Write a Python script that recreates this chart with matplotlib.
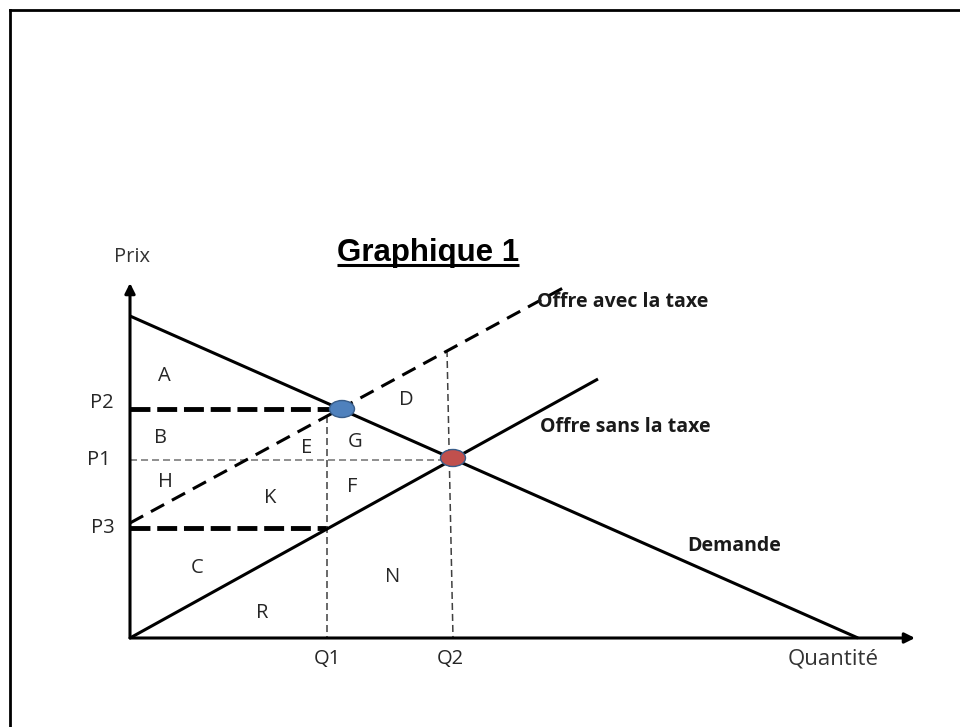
import matplotlib
matplotlib.use("Agg")
import matplotlib.pyplot as plt
from matplotlib.lines import Line2D
from matplotlib.patches import Ellipse

# curves (quantite, prix)
demande_q = [0, 728]
demande_p = [322, 0]
offre_q = [0, 468]
offre_p = [0, 259]
offre_taxe_q = [0, 433]
offre_taxe_p = [115, 350]

# prices and quantities
P2, P1, P3 = 229, 178, 110
Q1, Q2 = 197, 323
point_taxe = (212, 229)
point_equilibre = (323, 180)
q2_top = (317, 288)
q1_top = 222

prix_labels = ["P2", "P1", "P3"]
prix_label_p = [235, 178, 110]
prix_label_q = [-28, -31, -27]
quant_labels = ["Q1", "Q2"]
quant_values = [Q1, Q2 - 3]

# surface letters
zones = ["A", "B", "H", "K", "E", "G", "F", "D", "C", "R", "N"]
zones_q = [34, 30, 35, 140, 177, 225, 222, 276, 67, 132, 263]
zones_p = [262, 200, 156, 140, 190, 196, 151, 238, 70, 25, 61]

curve_names = ["Offre avec la taxe", "Offre sans la taxe", "Demande"]
curve_name_q = [407, 410, 557]
curve_name_p = [336, 211, 92]

fig = plt.figure(figsize=(9.6, 7.27), dpi=100)
ax = fig.add_axes([0, 0, 1, 1])
ax.set_xlim(-130, 830)
ax.set_ylim(-89, 638)
ax.axis("off")

txt = "#262626"
font = "Open Sans"

# axes with arrows
ax.annotate("", xy=(0, 355), xytext=(0, 0),
            arrowprops=dict(arrowstyle="-|>", lw=2.2, color="black",
                            mutation_scale=15, shrinkA=0, shrinkB=0))
ax.annotate("", xy=(785, 0), xytext=(0, 0),
            arrowprops=dict(arrowstyle="-|>", lw=2.2, color="black",
                            mutation_scale=15, shrinkA=0, shrinkB=0))

# guides
ax.plot([0, point_taxe[0]], [P2, P2], color="black", lw=3.5, dashes=(4.1, 1.4))
ax.plot([0, Q1], [P3, P3], color="black", lw=3.5, dashes=(4.1, 1.4))
ax.plot([0, Q2], [P1, P1], color="#707070", lw=1.1, dashes=(4.6, 2.6))
ax.plot([Q1, Q1], [q1_top, 0], color="#404040", lw=1.1, dashes=(4.6, 2.6))
ax.plot([q2_top[0], Q2], [q2_top[1], 0], color="#404040", lw=1.1, dashes=(4.6, 2.6))

# curves
ax.plot(demande_q, demande_p, color="black", lw=2.2, solid_capstyle="butt")
ax.plot(offre_q, offre_p, color="black", lw=2.2, solid_capstyle="butt")
ax.plot(offre_taxe_q, offre_taxe_p, color="black", lw=2.2, dashes=(4.9, 2.9))

ax.add_patch(Ellipse(point_taxe, 25, 17, facecolor="#4F81BD",
                     edgecolor="#385D8A", lw=1, zorder=5))
ax.add_patch(Ellipse(point_equilibre, 25, 17, facecolor="#C0504D",
                     edgecolor="#385D8A", lw=1, zorder=5))

# texts
ax.text(2, 381, "Prix", fontsize=14.5, color="#333333", family=font,
        ha="center", va="center")
ax.text(658, -21, "Quantité", fontsize=16, color="#333333", family=font,
        ha="left", va="center")
for lab, p, q in zip(prix_labels, prix_label_p, prix_label_q):
    ax.text(q, p, lab, fontsize=14.5, color=txt, family=font,
            ha="center", va="center")
for lab, q in zip(quant_labels, quant_values):
    ax.text(q, -21, lab, fontsize=14.5, color=txt, family=font,
            ha="center", va="center")
for lab, q, p in zip(zones, zones_q, zones_p):
    ax.text(q, p, lab, fontsize=14.5, color=txt, family=font,
            ha="center", va="center")
for lab, q, p in zip(curve_names, curve_name_q, curve_name_p):
    ax.text(q, p, lab, fontsize=14, color="#1a1a1a", family=font,
            fontweight="bold", ha="left", va="center")

title = ax.text(298, 377, "Graphique 1", fontsize=22.5, color="black",
                family="Liberation Sans", fontweight="bold",
                ha="center", va="baseline")

# underline the title
fig.canvas.draw()
bb = title.get_window_extent(fig.canvas.get_renderer())
inv = ax.transData.inverted()
x0, _ = inv.transform((bb.x0, bb.y0))
x1, _ = inv.transform((bb.x1, bb.y0))
ax.plot([x0, x1], [373, 373], color="black", lw=2.2, solid_capstyle="butt")

# frame of the original picture (top and left edges only)
W, H = 960, 727
fig.add_artist(Line2D([10 / W, 1], [1 - 10 / H, 1 - 10 / H],
                      transform=fig.transFigure, color="black", lw=2))
fig.add_artist(Line2D([10 / W, 10 / W], [0, 1 - 10 / H],
                      transform=fig.transFigure, color="black", lw=2))

fig.savefig("out.png", dpi=100)
